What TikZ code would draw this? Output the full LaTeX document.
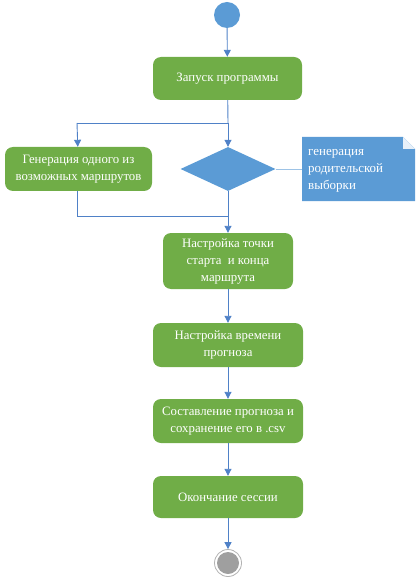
\documentclass[tikz,border=0pt]{standalone}
\usepackage{fontspec}
\setmainfont{Liberation Serif}
\usetikzlibrary{shapes.geometric,arrows.meta}
\definecolor{gbox}{HTML}{70AD47}
\definecolor{bfill}{HTML}{5B9BD5}
\definecolor{lcol}{HTML}{4F81C7}
\definecolor{ncol}{HTML}{9DC3E6}
\begin{document}
\begin{tikzpicture}[x=1pt,y=-1pt,
  act/.style={draw=none,fill=gbox,rounded corners=8pt,text=white,align=center,
    font=\fontsize{12.8}{17}\selectfont,inner sep=0pt},
  conn/.style={draw=lcol,line width=0.9pt,-{Triangle[length=7pt,width=7pt]}},
  plain/.style={draw=lcol,line width=0.9pt}]
\useasboundingbox (0,0) rectangle (417,577);
\node[circle,fill=bfill,minimum size=26pt,inner sep=0pt] (start) at (227,15) {};
\node[act,minimum width=149pt,minimum height=43pt] (b1) at (227.5,78.5) {Запуск программы};
\node[act,minimum width=147pt,minimum height=44pt] (b2) at (78.5,169) {Генерация одного из\\возможных маршрутов};
\node[diamond,fill=bfill,minimum width=95pt,minimum height=44pt,inner sep=0pt,aspect=2.16] (d) at (228,169) {};
\coordinate (split) at (228,123);
\coordinate (splitl) at (77,123);
\coordinate (join) at (228,216);
\coordinate (joinl) at (77,216);
\node[act,minimum width=130pt,minimum height=56pt] (b3) at (228,261) {Настройка точки\\старта\ \ и конца\\маршрута};
\node[act,minimum width=150pt,minimum height=44pt] (b4) at (228,345) {Настройка времени\\прогноза};
\node[act,minimum width=150pt,minimum height=44pt] (b5) at (228,421) {Составление прогноза и\\сохранение его в .csv};
\node[act,minimum width=150pt,minimum height=42pt] (b6) at (228,497) {Окончание сессии};
\node[circle,draw=gray!60,line width=0.8pt,fill=white,minimum size=27pt,inner sep=0pt] (endo) at (228,563) {};
\node[circle,fill=gray!75,minimum size=22pt,inner sep=0pt] (endi) at (endo) {};
% note
\fill[bfill] (302,137) -- (403,137) -- (415,149) -- (415,201) -- (302,201) -- cycle;
\fill[white!85!bfill] (403,137) -- (415,149) -- (403,149) -- cycle;
\node[anchor=north west,text=white,align=left,font=\fontsize{13}{17}\selectfont,inner sep=0pt] (note) at (308,149.5) {генерация\\родительской\\выборки};
\coordinate (notel) at (302,169);
% connectors
\draw[conn] (start) -- (b1);
\draw[plain] (b1) -- (split);
\draw[conn] (split) -- (d);
\draw[plain] (split) -- (splitl);
\draw[conn] (splitl) -- (b2);
\draw[draw=ncol,line width=0.9pt] (d.east) -- (notel);
\draw[plain] (d) -- (join);
\draw[plain] (b2.south -| joinl) -- (joinl) -- (join);
\draw[conn] (join) -- (b3);
\draw[conn] (b3) -- (b4);
\draw[conn] (b4) -- (b5);
\draw[conn] (b5) -- (b6);
\draw[conn] (b6) -- (endo);
\end{tikzpicture}
\end{document}
